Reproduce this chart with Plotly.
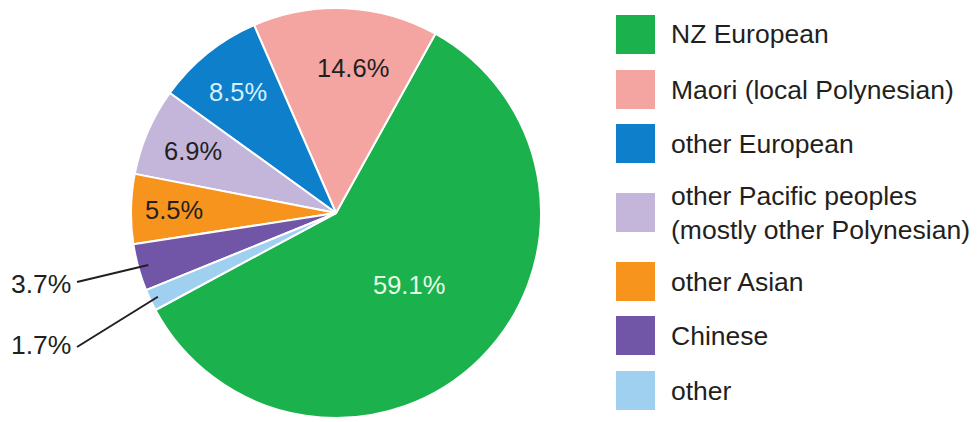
import math
import plotly.graph_objects as go

# ---- data ----
categories = ["NZ European", "Maori (local Polynesian)", "other European",
              "other Pacific peoples<br>(mostly other Polynesian)", "other Asian",
              "Chinese", "other"]
values = [59.1, 14.6, 8.5, 6.9, 5.5, 3.7, 1.7]
colors = ["#1BB14D", "#F4A5A2", "#0D7FCB", "#C4B5DA", "#F7941E", "#7155A7", "#A0D0EF"]
label_colors = ["#E6FBE6", "#231F20", "#D5F1FF", "#231F20", "#231F20", "#231F20", "#231F20"]
inside_label = [True, True, True, True, True, False, False]

# page is offset by the browser's default 8px body margin
OFF = 8
W, H = 977 - OFF, 422 - OFF
CX, CY, R = 336, 213, 205          # pie centre / radius in page pixels
ROT = 29                           # start angle (deg, clockwise from 12 o'clock)
FONT = "Liberation Sans, Arial, Helvetica, sans-serif"
FS = 25.5


def clamp(v):
    return min(1.0, max(0.0, v))


def px2paper(px, py):
    return (px - OFF) / W, (H - (py - OFF)) / H


fig = go.Figure()
x0, y0 = px2paper(CX - R, CY + R)
x1, y1 = px2paper(CX + R, CY - R)
fig.add_trace(go.Pie(
    labels=categories, values=values, sort=False, direction="counterclockwise",
    rotation=ROT, marker=dict(colors=colors, line=dict(color="white", width=2)),
    textinfo="none", hoverinfo="label+percent", showlegend=False,
    domain=dict(x=[clamp(x0), clamp(x1)], y=[clamp(y0), clamp(y1)]),
))

# slice mid angles (clockwise from top), derived from the values
total = sum(values)
mids = [ROT + values[0] / total * 360 / 2]
acc = ROT
for v in values[1:]:
    span = v / total * 360
    mids.append(acc - span / 2)
    acc -= span


def polar_px(ang_deg, rr):
    a = math.radians(ang_deg)
    return CX + rr * math.sin(a), CY - rr * math.cos(a)


annotations = []
shapes = []
radial_frac = [0.5, 0.71, 0.76, 0.76, 0.79]
angle_nudge = [-1, 4, 0, 0, 0]
for i, (v, m) in enumerate(zip(values, mids)):
    if inside_label[i]:
        x, y = px2paper(*polar_px(m + angle_nudge[i], R * radial_frac[i]))
        annotations.append(dict(x=x, y=y, xref="paper", yref="paper", text=f"{v:.1f}%",
                                xanchor="center", yanchor="middle", showarrow=False,
                                font=dict(family=FONT, size=FS, color=label_colors[i])))

# outside labels with leader lines (text centre / line start in page pixels)
outside_text_pos = {5: (41, 284), 6: (41, 345)}
outside_line_start = {5: (77, 282), 6: (77, 347)}
outside_r = {5: 0.95, 6: 0.96}
for i, (tx, ty) in outside_text_pos.items():
    x, y = px2paper(tx, ty)
    annotations.append(dict(x=x, y=y, xref="paper", yref="paper", text=f"{values[i]:.1f}%",
                            xanchor="center", yanchor="middle", showarrow=False,
                            font=dict(family=FONT, size=FS + 1, color="#231F20")))
    lx0, ly0 = px2paper(*outside_line_start[i])
    lx1, ly1 = px2paper(*polar_px(mids[i], R * outside_r[i]))
    shapes.append(dict(type="line", xref="paper", yref="paper", x0=lx0, y0=ly0, x1=lx1, y1=ly1,
                       line=dict(color="#231F20", width=2)))

# custom legend (large swatches)
sq_x0, sq_size = 616, 39
sq_tops = [15, 70, 124, 193, 262, 316, 371]
text_x = 669
for cat, col, top in zip(categories, colors, sq_tops):
    ax0, ay0 = px2paper(sq_x0, top + sq_size)
    ax1, ay1 = px2paper(sq_x0 + sq_size, top)
    shapes.append(dict(type="rect", xref="paper", yref="paper",
                       x0=ax0, x1=ax1, y0=ay0, y1=ay1,
                       fillcolor=col, line=dict(width=0)))
    tx, ty = px2paper(text_x, top + sq_size / 2)
    annotations.append(dict(x=tx, y=ty, xref="paper", yref="paper",
                            text=cat, showarrow=False, xanchor="left", yanchor="middle", align="left",
                            font=dict(family=FONT, size=26.5, color="#231F20")))

fig.update_layout(
    width=W, height=H, margin=dict(l=0, r=0, t=0, b=0),
    paper_bgcolor="white", plot_bgcolor="white",
    annotations=annotations, shapes=shapes, showlegend=False,
)

fig.write_html("out.html")
